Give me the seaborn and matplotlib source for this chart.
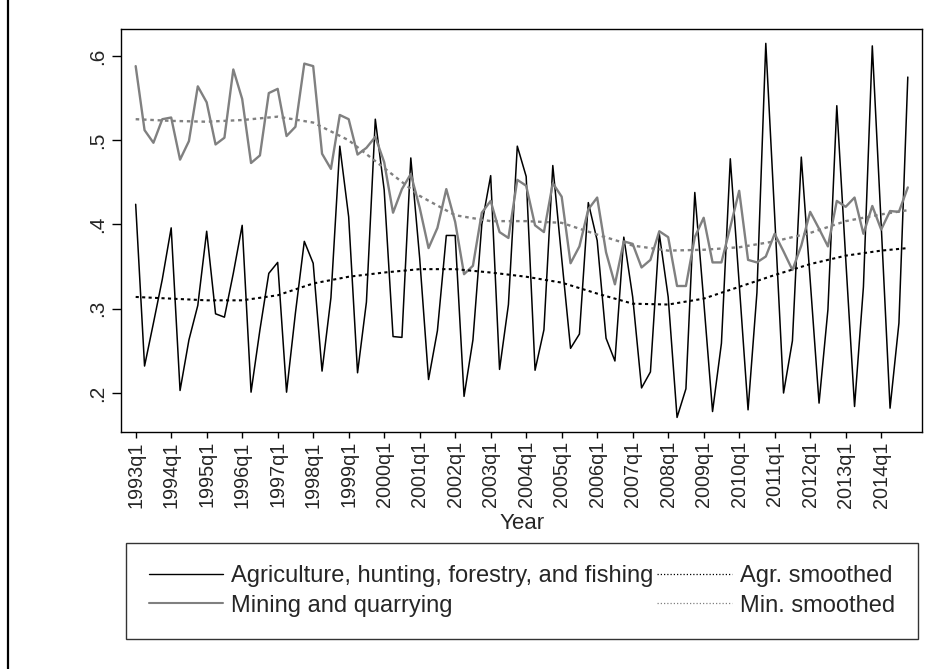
import numpy as np
import pandas as pd
import matplotlib
matplotlib.use('Agg')
import matplotlib.pyplot as plt
from matplotlib.lines import Line2D
import seaborn as sns

# ── Datos ────────────────────────────────────────────────────
# trimestres 1993q1 .. 2014q4 (índice 0..87)
agricultura = [
    0.424, 0.232, 0.283, 0.335, 0.396, 0.203, 0.263, 0.304,
    0.392, 0.294, 0.290, 0.342, 0.399, 0.201, 0.275, 0.342,
    0.355, 0.201, 0.295, 0.380, 0.354, 0.226, 0.313, 0.493,
    0.409, 0.224, 0.308, 0.525, 0.441, 0.267, 0.266, 0.479,
    0.360, 0.216, 0.274, 0.387, 0.387, 0.196, 0.263, 0.400,
    0.458, 0.228, 0.305, 0.493, 0.457, 0.227, 0.275, 0.470,
    0.360, 0.253, 0.270, 0.426, 0.381, 0.265, 0.238, 0.385,
    0.314, 0.206, 0.225, 0.389, 0.314, 0.171, 0.205, 0.438,
    0.310, 0.178, 0.259, 0.478, 0.330, 0.180, 0.319, 0.615,
    0.410, 0.200, 0.262, 0.480, 0.334, 0.188, 0.299, 0.541,
    0.360, 0.184, 0.326, 0.612, 0.400, 0.182, 0.283, 0.575,
]
mineria = [
    0.588, 0.512, 0.497, 0.525, 0.527, 0.477, 0.499, 0.564,
    0.545, 0.495, 0.503, 0.584, 0.549, 0.473, 0.482, 0.556,
    0.561, 0.505, 0.516, 0.591, 0.588, 0.484, 0.466, 0.530,
    0.525, 0.483, 0.491, 0.504, 0.474, 0.414, 0.442, 0.460,
    0.420, 0.372, 0.396, 0.442, 0.403, 0.341, 0.351, 0.414,
    0.428, 0.391, 0.384, 0.453, 0.446, 0.399, 0.391, 0.449,
    0.433, 0.354, 0.374, 0.418, 0.432, 0.367, 0.329, 0.380,
    0.377, 0.349, 0.358, 0.392, 0.385, 0.327, 0.327, 0.385,
    0.408, 0.355, 0.355, 0.397, 0.440, 0.358, 0.355, 0.362,
    0.389, 0.368, 0.346, 0.375, 0.415, 0.395, 0.374, 0.428,
    0.421, 0.432, 0.389, 0.422, 0.394, 0.416, 0.415, 0.444,
]
# curvas suavizadas, leídas cada 4 trimestres
idx_suave = [0, 4, 8, 12, 16, 20, 24, 28, 32, 36, 40, 44,
             48, 52, 56, 60, 64, 68, 72, 76, 80, 84, 87]
agr_suave = [0.314, 0.312, 0.310, 0.310, 0.316, 0.330, 0.338, 0.343,
             0.347, 0.347, 0.343, 0.338, 0.331, 0.318, 0.306, 0.305,
             0.312, 0.326, 0.340, 0.353, 0.363, 0.369, 0.372]
min_suave = [0.525, 0.523, 0.522, 0.524, 0.528, 0.521, 0.500, 0.467,
             0.434, 0.411, 0.404, 0.404, 0.402, 0.388, 0.375, 0.369,
             0.370, 0.373, 0.380, 0.390, 0.404, 0.412, 0.417]

ticks_x = [0, 4, 8, 12, 16, 20, 24, 28, 32, 36, 40,
           44, 48, 52, 56, 60, 64, 68, 72, 76, 80, 84]
etiquetas_x = ['1993q1', '1994q1', '1995q1', '1996q1', '1997q1', '1998q1',
               '1999q1', '2000q1', '2001q1', '2002q1', '2003q1', '2004q1',
               '2005q1', '2006q1', '2007q1', '2008q1', '2009q1', '2010q1',
               '2011q1', '2012q1', '2013q1', '2014q1']
ticks_y = [0.2, 0.3, 0.4, 0.5, 0.6]
etiquetas_y = ['.2', '.3', '.4', '.5', '.6']

# ── Configuración visual ──────────────────────────────────────
sns.set_style('ticks')
plt.rcParams['font.family'] = ['Liberation Sans', 'DejaVu Sans']
plt.rcParams['axes.linewidth'] = 1.0
gris = '#808080'

trimestres = np.arange(len(agricultura))
df = pd.DataFrame({'q': trimestres, 'agr': agricultura, 'min': mineria})
sv = pd.DataFrame({'q': idx_suave, 'agr': agr_suave, 'min': min_suave})

W, H = 935, 669
fig = plt.figure(figsize=(W / 100, H / 100), dpi=100)
ax = fig.add_axes([121.3 / W, 1 - 432 / H, (922 - 121.3) / W, (432 - 29.3) / H])

sns.lineplot(data=df, x='q', y='agr', ax=ax, color='black', lw=1.1, estimator=None)
sns.lineplot(data=df, x='q', y='min', ax=ax, color=gris, lw=1.7, estimator=None)
sns.lineplot(data=sv, x='q', y='agr', ax=ax, color='black', lw=1.5,
             ls=(0, (1.5, 1.6)), estimator=None)
sns.lineplot(data=sv, x='q', y='min', ax=ax, color=gris, lw=1.7,
             ls=(0, (1.5, 1.6)), estimator=None)

ax.set_xlim(-1.62, 88.6)
ax.set_ylim(0.1537, 0.6317)
ax.set_xticks(ticks_x)
ax.set_xticklabels(etiquetas_x, rotation=90, fontsize=14.3)
ax.set_yticks(ticks_y)
ax.set_yticklabels(etiquetas_y, rotation=90, va='center', fontsize=15)
ax.tick_params(axis='x', direction='out', length=4.5, width=1.0, color='black', pad=2)
ax.tick_params(axis='y', direction='out', length=6.5, width=1.0, color='black', pad=4)
ax.set_xlabel('Year', fontsize=16, labelpad=4)
ax.set_ylabel('')
for s in ax.spines.values():
    s.set_visible(True)
    s.set_color('black')
    s.set_linewidth(1.0)

manijas = [
    Line2D([], [], color='black', lw=1.0),
    Line2D([], [], color=gris, lw=1.5),
    Line2D([], [], color='black', lw=0.9, ls=(0, (1, 1.6))),
    Line2D([], [], color=gris, lw=0.9, ls=(0, (1, 1.6))),
]
textos = ['Agriculture, hunting, forestry, and fishing', 'Mining and quarrying',
          'Agr. smoothed', 'Min. smoothed']
ley = fig.legend(manijas, textos, loc='upper center', ncol=2,
                 bbox_to_anchor=(522 / W, 1 - 543 / H), fontsize=17,
                 frameon=True, fancybox=False, edgecolor='black',
                 handlelength=3.15, handletextpad=0.35, columnspacing=0.15,
                 borderpad=0.95, labelspacing=0.3, borderaxespad=0)
ley.get_frame().set_linewidth(1.0)

# línea vertical del borde izquierdo de la imagen original
fig.add_artist(Line2D([7.5 / W, 7.5 / W], [0, 1], transform=fig.transFigure,
                      color='black', lw=1.6))

plt.savefig('out.png', dpi=100, facecolor='white')
